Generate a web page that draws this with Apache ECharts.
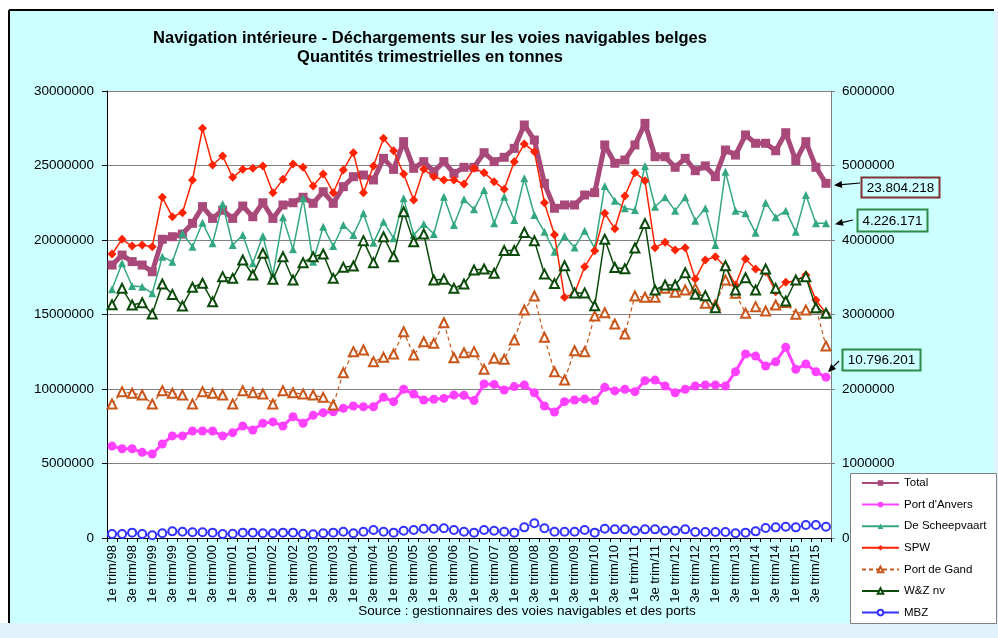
<!DOCTYPE html>
<html><head><meta charset="utf-8">
<script src="https://cdn.jsdelivr.net/npm/echarts@6/dist/echarts.min.js"></script>
<style>html,body{margin:0;padding:0;background:#fff}#c{width:998px;height:638px}</style>
</head><body><div id="c"></div>
<script>
const categories = [
'1e trim/98','2e trim/98','3e trim/98','4e trim/98','1e trim/99','2e trim/99','3e trim/99','4e trim/99',
'1e trim/00','2e trim/00','3e trim/00','4e trim/00','1e trim/01','2e trim/01','3e trim/01','4e trim/01',
'1e trim/02','2e trim/02','3e trim/02','4e trim/02','1e trim/03','2e trim/03','3e trim/03','4e trim/03',
'1e trim/04','2e trim/04','3e trim/04','4e trim/04','1e trim/05','2e trim/05','3e trim/05','4e trim/05',
'1e trim/06','2e trim/06','3e trim/06','4e trim/06','1e trim/07','2e trim/07','3e trim/07','4e trim/07',
'1e trim/08','2e trim/08','3e trim/08','4e trim/08','1e trim/09','2e trim/09','3e trim/09','4e trim/09',
'1e trim/10','2e trim/10','3e trim/10','4e trim/10','1e trim/11','2e trim/11','3e trim/11','4e trim/11',
'1e trim/12','2e trim/12','3e trim/12','4e trim/12','1e trim/13','2e trim/13','3e trim/13','4e trim/13',
'1e trim/14','2e trim/14','3e trim/14','4e trim/14','1e trim/15','2e trim/15','3e trim/15','4e trim/15'];

const total = [18320000,18990000,18550000,18320000,17870000,20050000,20220000,20400000,21120000,22240000,
21450000,22000000,21450000,22280000,21560000,22500000,21450000,22350000,22500000,22870000,
22460000,23240000,22460000,23580000,24250000,24360000,24030000,25480000,24740000,26600000,
24810000,25260000,24590000,25260000,24470000,24880000,24880000,25860000,25260000,25550000,
26150000,27720000,26710000,23800000,22130000,22350000,22350000,23020000,23180000,26380000,
25150000,25370000,26380000,27830000,25590000,25590000,24880000,25480000,24650000,24970000,
24250000,26040000,25700000,27050000,26490000,26490000,25990000,27200000,25320000,26600000,
24880000,23804218];

const anvers = [6170000,5990000,5990000,5750000,5640000,6310000,6850000,6850000,7180000,7180000,
7180000,6850000,7070000,7520000,7250000,7700000,7790000,7520000,8140000,7700000,
8230000,8410000,8470000,8700000,8860000,8810000,8810000,9440000,9150000,9980000,
9660000,9260000,9310000,9370000,9600000,9580000,9220000,10340000,10310000,9930000,
10160000,10270000,9750000,8860000,8460000,9150000,9260000,9330000,9220000,10110000,
9870000,9980000,9820000,10560000,10600000,10200000,9750000,9980000,10200000,10270000,
10270000,10200000,11160000,12350000,12210000,11540000,11830000,12800000,11320000,11680000,
11160000,10796201];

const scheepvaart = [3338000,3687000,3383000,3374000,3284000,3776000,3709000,4090000,3910000,4232000,
3955000,4483000,3933000,4067000,3687000,4054000,3530000,4304000,3875000,4559000,
3709000,4179000,3919000,4201000,4067000,4358000,3964000,4246000,4022000,4559000,
4067000,4215000,4081000,4581000,4201000,4546000,4412000,4671000,4224000,4581000,
4269000,4828000,4336000,4112000,3843000,4054000,3900000,4125000,3890000,4725000,
4528000,4425000,4403000,4993000,4447000,4573000,4394000,4573000,4260000,4425000,
3933000,4917000,4394000,4358000,4098000,4501000,4304000,4394000,4112000,4604000,
4224000,4226171];

const spw = [3812000,4009000,3919000,3933000,3910000,4573000,4313000,4367000,4805000,5499000,
5007000,5128000,4841000,4949000,4962000,4993000,4635000,4814000,5020000,4975000,
4725000,4886000,4635000,4940000,5172000,4635000,4993000,5365000,5199000,4886000,
4537000,4949000,4850000,4805000,4805000,4752000,4962000,4904000,4783000,4680000,
5052000,5289000,5186000,4501000,4070000,3230000,3284000,3640000,3855000,4358000,
4150000,4591000,4904000,4796000,3897000,3969000,3866000,3897000,3477000,3732000,
3776000,3642000,3396000,3745000,3611000,3575000,3306000,3432000,3450000,3530000,
3195000,3016000];

const gand = [1799000,1964000,1942000,1919000,1799000,1977000,1942000,1919000,1799000,1964000,
1942000,1919000,1799000,1977000,1950000,1933000,1799000,1977000,1950000,1933000,
1919000,1888000,1785000,2219000,2501000,2524000,2367000,2425000,2470000,2769000,
2456000,2635000,2613000,2890000,2420000,2487000,2501000,2264000,2412000,2399000,
2658000,3060000,3248000,2694000,2232000,2121000,2514000,2501000,2980000,3024000,
2872000,2738000,3248000,3231000,3231000,3351000,3298000,3329000,3351000,3150000,
3128000,3463000,3284000,3016000,3105000,3047000,3128000,3160000,3002000,3060000,
3092000,2577000];

const wz = [3130000,3351000,3128000,3158000,3007000,3409000,3270000,3114000,3365000,3419000,
3172000,3508000,3485000,3732000,3530000,3821000,3472000,3776000,3463000,3696000,
3776000,3812000,3485000,3633000,3651000,3991000,3696000,4044000,3776000,4380000,
3977000,4081000,3463000,3472000,3351000,3409000,3597000,3610000,3553000,3860000,
3860000,4100000,3990000,3545000,3415000,3655000,3290000,3290000,3116000,4011000,
3630000,3613000,3893000,4220000,3329000,3396000,3396000,3561000,3271000,3253000,
3092000,3655000,3329000,3494000,3329000,3611000,3351000,3181000,3463000,3508000,
3092000,3016000];

const mbz = [54000,54000,72000,54000,36000,63000,89000,85000,76000,76000,
72000,54000,58000,72000,72000,63000,63000,72000,72000,58000,
49000,63000,72000,85000,63000,85000,107000,85000,72000,98000,
107000,125000,125000,130000,107000,85000,72000,107000,98000,85000,
72000,143000,197000,130000,85000,85000,85000,107000,72000,125000,
116000,116000,98000,116000,116000,98000,98000,116000,81000,81000,
81000,81000,63000,72000,89000,134000,143000,152000,143000,174000,
174000,152000];

const leftTicks = {min:0, max:30000000, interval:5000000};
const rightTicks = {min:0, max:6000000, interval:1000000};

const FONT = '"Liberation Sans", Arial, sans-serif';
const chart = echarts.init(document.getElementById('c'));

function mk(name, data, axis, symbol, size, color, width, dashed, z){
  return {
    name, type:'line', data, yAxisIndex:axis, symbol, symbolSize:size,
    showAllSymbol:true, z:z,
    lineStyle:{color, width, type: dashed ? [4,3] : 'solid'},
    itemStyle:{color, borderColor:color, borderWidth: symbol.indexOf('empty')===0 ? 1 : 0},
    emphasis:{disabled:true}
  };
}

const fmt = n => String(Math.round(n)).replace(/\B(?=(\d{3})+(?!\d))/g,'.');

const option = {
  animation:false,
  textStyle:{fontFamily:FONT},
  grid:{left:107, right:167, top:91, bottom:100, show:true, backgroundColor:'#fff', borderWidth:0},
  xAxis:{type:'category', data:categories, boundaryGap:true,
    axisLine:{lineStyle:{color:'#000', width:1}},
    axisTick:{show:true, interval:0, length:4, lineStyle:{color:'#000'}},
    axisLabel:{interval:1, rotate:90, fontSize:13, color:'#000', margin:7, fontFamily:FONT, hideOverlap:false},
    splitLine:{show:false}},
  yAxis:[
    {type:'value', position:'left', min:leftTicks.min, max:leftTicks.max, interval:leftTicks.interval,
     axisLine:{show:true, lineStyle:{color:'#000'}},
     axisTick:{show:true, length:5, lineStyle:{color:'#000'}},
     axisLabel:{formatter:v=>String(v), fontSize:13.5, color:'#000', margin:13, fontFamily:FONT},
     splitLine:{show:true, lineStyle:{color:'#808080', width:1}}},
    {type:'value', position:'right', min:rightTicks.min, max:rightTicks.max, interval:rightTicks.interval,
     axisLine:{show:true, lineStyle:{color:'#808080'}},
     axisTick:{show:true, length:4, lineStyle:{color:'#808080'}},
     axisLabel:{formatter:v=>String(v), fontSize:13.5, color:'#000', margin:11, fontFamily:FONT},
     splitLine:{show:false}}
  ],
  legend:{orient:'vertical', left:861, top:477, padding:0, itemWidth:37, itemHeight:7, itemGap:9.6, z:20,
    textStyle:{fontSize:11.5, lineHeight:12, color:'#000', fontFamily:FONT},
    data:["Total","Port d'Anvers","De Scheepvaart","SPW","Port de Gand","W&Z nv","MBZ"]},
  series:[
    mk('Total', total, 0, 'rect', 9, '#a8497a', 5, false, 2),
    mk("Port d'Anvers", anvers, 0, 'circle', 9, '#ff40ff', 3, false, 3),
    mk('De Scheepvaart', scheepvaart, 1, 'triangle', 8, '#33a87e', 1.5, false, 4),
    mk('SPW', spw, 1, 'diamond', 9, '#ff2200', 1.5, false, 5),
    mk('Port de Gand', gand, 1, 'emptyTriangle', 9, '#c8561a', 1.2, true, 6),
    mk('W&Z nv', wz, 1, 'emptyTriangle', 9, '#0b4a0b', 1.5, false, 7),
    mk('MBZ', mbz, 1, 'emptyCircle', 8, '#3333ff', 1, false, 8)
  ]
};

const bg = [
  {type:'rect', z:-100, silent:true, shape:{x:0,y:0,width:998,height:638}, style:{fill:'#fff'}},
  {type:'rect', z:-99, silent:true, shape:{x:0,y:623,width:998,height:15}, style:{fill:'#e0f2fa'}},
  {type:'rect', z:-99, silent:true, shape:{x:994,y:11,width:4,height:612}, style:{fill:'#e0f2fa'}},
  {type:'rect', z:-98, silent:true, shape:{x:9,y:11,width:985,height:612}, style:{fill:'#ccffff'}},
  {type:'line', z:-97, silent:true, shape:{x1:9,y1:10,x2:994,y2:10}, style:{stroke:'#000', lineWidth:2}},
  {type:'line', z:-97, silent:true, shape:{x1:9,y1:10,x2:9,y2:623}, style:{stroke:'#000', lineWidth:2}},
  {type:'rect', z:-50, silent:true, shape:{x:850.5,y:473.5,width:146,height:150}, style:{fill:'#fff', stroke:'#808080', lineWidth:1}},
  {type:'text', z:50, style:{x:430, y:38, text:'Navigation intérieure - Déchargements sur les voies navigables belges',
     font:'bold 16.5px '+FONT, fill:'#000', textAlign:'center', textVerticalAlign:'middle'}},
  {type:'text', z:50, style:{x:430, y:57, text:'Quantités trimestrielles en tonnes',
     font:'bold 16.5px '+FONT, fill:'#000', textAlign:'center', textVerticalAlign:'middle'}},
  {type:'text', z:50, style:{x:527, y:611, text:'Source : gestionnaires des voies navigables et des ports',
     font:'13.5px '+FONT, fill:'#000', textAlign:'center', textVerticalAlign:'middle'}}
];
option.graphic = bg;
chart.setOption(option);

function arrow(x1,y1,x2,y2){
  const dx=x2-x1, dy=y2-y1, L=Math.sqrt(dx*dx+dy*dy), ux=dx/L, uy=dy/L;
  const hl=8, hw=3.5, bx=x2-ux*hl, by=y2-uy*hl;
  return [
    {type:'line', z:60, shape:{x1,y1,x2:bx,y2:by}, style:{stroke:'#000', lineWidth:1.2}},
    {type:'polygon', z:60, shape:{points:[[x2,y2],[bx-uy*hw,by+ux*hw],[bx+uy*hw,by-ux*hw]]}, style:{fill:'#000'}}
  ];
}
function box(x,y,w,h,color,text){
  return [
    {type:'rect', z:60, shape:{x:x+0.5,y:y+0.5,width:w,height:h}, style:{fill:'rgba(0,0,0,0)', stroke:color, lineWidth:2}},
    {type:'text', z:61, style:{x:x+w/2+0.5, y:y+h/2+1, text, font:'13.5px '+FONT, fill:'#000', textAlign:'center', textVerticalAlign:'middle'}}
  ];
}
const last = categories.length-1;
const p1 = chart.convertToPixel({seriesIndex:0}, [last, total[last]]);
const p2 = chart.convertToPixel({seriesIndex:2}, [last, scheepvaart[last]]);
const p3 = chart.convertToPixel({seriesIndex:1}, [last, anvers[last]]);
const ann = [].concat(
  arrow(860, 183, p1[0]+8, p1[1]+2), box(861,177,78,20,'#7f3232', fmt(total[last])),
  arrow(853, 220, p2[0]+9, p2[1]+1), box(857,209,70,22,'#2e8b46', fmt(scheepvaart[last])),
  arrow(839, 361, p3[0]+2, p3[1]-5), box(842,349,78,21,'#2e8b46', fmt(anvers[last]))
);
chart.setOption({graphic: bg.concat(ann)});
</script></body></html>
